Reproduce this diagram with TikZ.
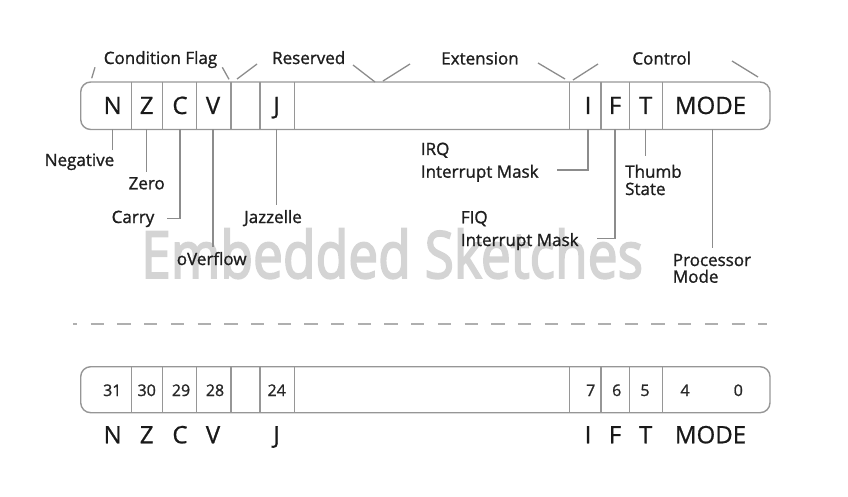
\documentclass[tikz,border=0pt]{standalone}
\usepackage{fontspec}
\setmainfont{Open Sans}
\newfontfamily\lblfont{Open Sans}[FakeBold=1.2]
\newfontfamily\bigfont{Open Sans}[FakeBold=0.8]
\newfontfamily\wmfont{Open Sans}[FakeBold=3]
\begin{document}
\begin{tikzpicture}[x=1pt,y=-1pt,
  boxline/.style={draw={rgb,255:red,150;green,150;blue,150},line width=1.4pt},
  tick/.style={draw={rgb,255:red,140;green,140;blue,140},line width=1.3pt},
  slash/.style={draw={rgb,255:red,140;green,140;blue,140},line width=1.3pt},
  big/.style={inner sep=0pt,anchor=base,text={rgb,255:red,25;green,25;blue,25},font=\bigfont\fontsize{24}{27}\selectfont},
  num/.style={inner sep=0pt,anchor=base,text={rgb,255:red,40;green,40;blue,40},font=\lblfont\fontsize{16}{18}\selectfont},
  lbl/.style={inner sep=0pt,anchor=base,text={rgb,255:red,30;green,30;blue,30},font=\lblfont\fontsize{17}{20}\selectfont},
  lblw/.style={lbl,anchor=base west},
  wm/.style={inner sep=0pt,anchor=base west,text={rgb,255:red,212;green,212;blue,212},font=\wmfont\fontsize{65}{70}\selectfont,xscale=0.82}]
\useasboundingbox (0,0) rectangle (848,497);
% watermark
\node[wm] (wmark) at (141,278) {Embedded Sketches};

% ---------- top register ----------
\draw[boxline,rounded corners=10pt] (80.7,82) rectangle (770,129.5);
\foreach \x in {131.7,162.7,196.7,231,260,294.3,569.3,601,629.3,662.3}
  \draw[boxline] (\x,82) -- (\x,129.5);
\coordinate (bot) at (0,129.5);

\node[big] (N) at (112.7,114) {N};
\node[big] (Z) at (146.7,114) {Z};
\node[big] (C) at (180,114) {C};
\node[big] (V) at (213,114) {V};
\node[big] (J) at (276.7,114) {J};
\node[big] (I) at (588,114) {I};
\node[big] (F) at (615,114) {F};
\node[big] (T) at (645.7,114) {T};
\node[big] (MODE) at (710.5,114) {MODE};

% group labels
\node[lbl] (cond) at (160.5,64) {Condition Flag};
\node[lbl] (res) at (308.7,64) {Reserved};
\node[lbl] (ext) at (480,64.5) {Extension};
\node[lbl] (ctrl) at (661.7,64.5) {Control};
\draw[slash] (95,67.3) -- (91.7,78.3);
\draw[slash] (222.3,67.3) -- (229,79.3);
\draw[slash] (257,64) -- (237,79);
\draw[slash] (353,65) -- (375,82);
\draw[slash] (410,64) -- (383,81);
\draw[slash] (538,63) -- (565,79);
\draw[slash] (598,64) -- (573,80);
\draw[slash] (732,61) -- (758,77);

% field labels
\node[lbl] (neg) at (79.5,166) {Negative};
\node[lbl] (zero) at (146.7,189.3) {Zero};
\node[lbl] (carry) at (133,223) {Carry};
\node[lbl] (ovf) at (211.7,265) {oVerflow};
\node[lbl] (jaz) at (273,223) {Jazzelle};
\node[lblw] (irq) at (420.7,155) {IRQ};
\node[lblw] (irqm) at (420.7,177.7) {Interrupt Mask};
\node[lblw] (fiq) at (460.7,223.3) {FIQ};
\node[lblw] (fiqm) at (460.7,246) {Interrupt Mask};
\node[lblw] (thumb) at (625,177.7) {Thumb};
\node[lblw] (state) at (625,195) {State};
\node[lblw] (proc) at (672.7,266) {Processor};
\node[lblw] (pmode) at (672.7,282.7) {Mode};

\coordinate (carryend) at (166.7,218.3);
\coordinate (irqend) at (556.7,170);
\coordinate (fiqend) at (597.3,238.3);

\draw[tick] (N |- bot) -- ++(0,20.5);
\draw[tick] (Z |- bot) -- ++(0,43);
\draw[tick] (C |- bot) |- (carryend);
\draw[tick] (V |- bot) -- ++(0,117);
\draw[tick] (J |- bot) -- ++(0,75.5);
\draw[tick] (I |- bot) |- (irqend);
\draw[tick] (F |- bot) |- (fiqend);
\draw[tick] (T |- bot) -- ++(0,27);
\draw[tick] ([xshift=2pt]MODE |- bot) -- ++(0,118.8);

% dashed separator
\coordinate (dl) at (73,324);
\coordinate (dr) at (767,324);
\draw[draw={rgb,255:red,175;green,175;blue,175},line width=2pt,dash pattern=on 13.3pt off 13.4pt,dash phase=9pt] (dl) -- (dr);

% ---------- bottom register ----------
\draw[boxline,rounded corners=10pt] (80.7,366.7) rectangle (770,412.7);
\foreach \x in {131.7,162.7,196.7,231,260,294.3,569.3,601,629.3,662.3}
  \draw[boxline] (\x,366.7) -- (\x,412.7);

\node[num] (b31) at (112.3,396) {31};
\node[num] (b30) at (146.7,396) {30};
\node[num] (b29) at (181,396) {29};
\node[num] (b28) at (215,396) {28};
\node[num] (b24) at (276.7,396) {24};
\node[num] (b7) at (590.7,396) {7};
\node[num] (b6) at (616.7,396) {6};
\node[num] (b5) at (645,396) {5};
\node[num] (b4) at (685,396) {4};
\node[num] (b0) at (738.3,396) {0};

\node[big] (bN) at (112.7,443.3) {N};
\node[big] (bZ) at (146.7,443.3) {Z};
\node[big] (bC) at (180,443.3) {C};
\node[big] (bV) at (213,443.3) {V};
\node[big] (bJ) at (276.7,443.3) {J};
\node[big] (bI) at (588,443.3) {I};
\node[big] (bF) at (615,443.3) {F};
\node[big] (bT) at (645.7,443.3) {T};
\node[big] (bMODE) at (710.5,443.3) {MODE};
\end{tikzpicture}
\end{document}
